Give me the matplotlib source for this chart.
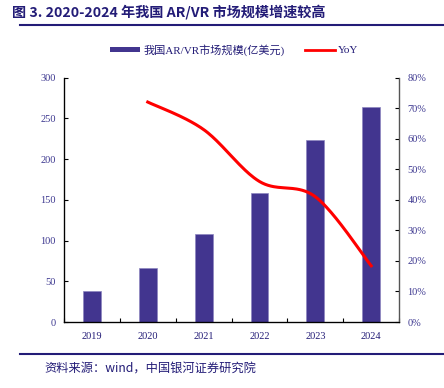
import numpy as np
import matplotlib
matplotlib.use('Agg')
import matplotlib.pyplot as plt
from matplotlib.lines import Line2D
from matplotlib.patches import Patch

plt.rcParams['font.family'] = ['Liberation Serif', 'Noto Sans CJK SC']

# data
years = ['2019', '2020', '2021', '2022', '2023', '2024']
market_size = [38, 66, 108, 158, 223, 264]   # 亿美元
yoy_years = ['2020', '2021', '2022', '2023', '2024']
yoy = [72.0, 63.0, 46.0, 41.0, 18.4]         # %

bar_color = '#42358F'
label_color = '#3D3890'
navy = '#231C77'

fig = plt.figure(figsize=(4.44, 3.88), dpi=100)
ax = fig.add_axes([0.144, 0.170, 0.755, 0.630])
ax2 = ax.twinx()

x = np.arange(len(years))
ax.bar(x, market_size, width=0.32, color=bar_color, edgecolor='#8C86C0', linewidth=0.5, zorder=2)
ax.set_xlim(-0.5, len(years) - 0.5)
ax.set_ylim(0, 300)
ax.set_yticks(np.arange(0, 301, 50))
ax.set_xticks(x)
ax.set_xticklabels(years)
ax.set_xticks(np.arange(-0.5, len(years), 1), minor=True)
ax.tick_params(axis='x', which='major', length=0, pad=7, labelsize=7.5, labelcolor=navy)
ax.tick_params(axis='x', which='minor', length=3, direction='in', width=0.8)
ax.tick_params(axis='y', length=3, direction='in', width=0.8, labelsize=7.5, labelcolor=label_color, pad=6)
ax.spines['top'].set_visible(False)
for s in ['left', 'bottom']:
    ax.spines[s].set_linewidth(0.9)

# smoothed YoY line (Catmull-Rom through the data points, like Excel's smooth line)
xi = np.array([years.index(y) for y in yoy_years], dtype=float)
yi = np.array(yoy)
px = np.concatenate([[xi[0]], xi, [xi[-1]]])
py = np.concatenate([[yi[0]], yi, [yi[-1]]])
cx, cy = [], []
t = np.linspace(0, 1, 40)
for i in range(1, len(px) - 2):
    p0 = np.array([px[i], py[i]])
    p3 = np.array([px[i + 1], py[i + 1]])
    c1 = p0 + (np.array([px[i + 1], py[i + 1]]) - np.array([px[i - 1], py[i - 1]])) / 6
    c2 = p3 - (np.array([px[i + 2], py[i + 2]]) - np.array([px[i], py[i]])) / 6
    b = ((1 - t) ** 3)[:, None] * p0 + (3 * (1 - t) ** 2 * t)[:, None] * c1 \
        + (3 * (1 - t) * t ** 2)[:, None] * c2 + (t ** 3)[:, None] * p3
    cx.extend(b[:, 0])
    cy.extend(b[:, 1])
ax2.plot(cx, cy, color='#FF0000', linewidth=2.2, zorder=3)
ax2.set_ylim(0, 80)
ax2.set_yticks(np.arange(0, 81, 10))
ax2.set_yticklabels([f'{v}%' for v in range(0, 81, 10)])
ax2.tick_params(axis='y', length=3, direction='in', width=0.8, labelsize=7.5, labelcolor=label_color, pad=6)
ax2.spines['top'].set_visible(False)
ax2.spines['right'].set_color('#555555')
ax2.spines['right'].set_linewidth(0.9)

# legend
handles = [Patch(facecolor=bar_color), Line2D([0], [0], color='#FF0000', linewidth=2)]
fig.legend(handles, ['我国AR/VR市场规模(亿美元)', 'YoY'], loc='center', bbox_to_anchor=(0.528, 0.872),
           ncol=2, frameon=False, handlelength=2.7, handleheight=0.35,
           columnspacing=1.8, handletextpad=0.3, labelcolor=navy,
           prop={'family': ['Liberation Serif', 'Noto Sans CJK SC'], 'size': 8})

# title and footer
fig.text(0.027, 0.968, '图 3. 2020-2024 年我国 AR/VR 市场规模增速较高', fontsize=10.2, fontweight='bold',
         color=navy, va='center', ha='left', family=['Noto Sans CJK SC'])
fig.add_artist(Line2D([0.045, 1.0], [0.936, 0.936], color=navy, linewidth=1.5))
fig.add_artist(Line2D([0.045, 1.0], [0.088, 0.088], color=navy, linewidth=1.5))
fig.text(0.10, 0.048, '资料来源：wind，中国银河证券研究院', fontsize=8.8, color=navy, style='italic',
         va='center', ha='left', family=['Noto Sans CJK SC'])

fig.savefig('out.png', dpi=100)
